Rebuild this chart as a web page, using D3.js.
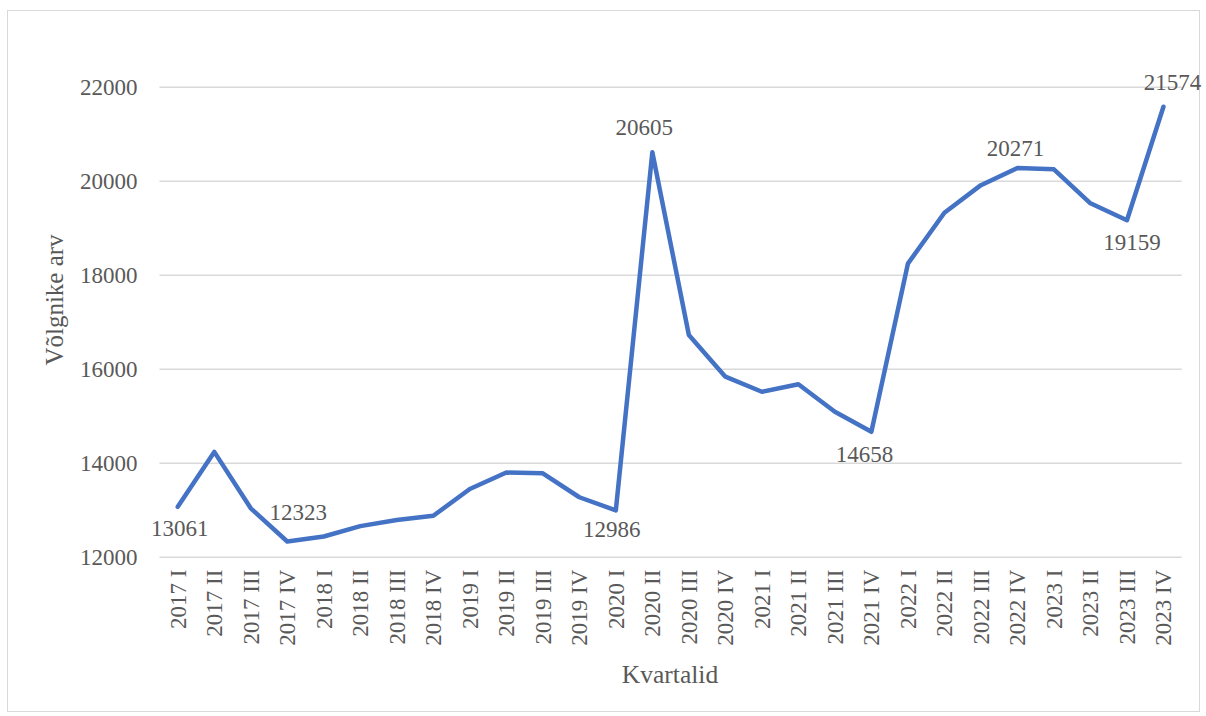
<!DOCTYPE html>
<html>
<head>
<meta charset="utf-8">
<script src="https://cdn.jsdelivr.net/npm/d3@7/dist/d3.min.js"></script>
<style>
  html, body { margin: 0; padding: 0; background: #fff; }
  svg { display: block; }
  text { font-family: "Liberation Serif", "Times New Roman", serif; fill: #595959; }
</style>
</head>
<body>
<svg id="chart" width="1206" height="716"></svg>
<script>
// Quarterly number of debtors
const quarters = [
  "2017 I", "2017 II", "2017 III", "2017 IV",
  "2018 I", "2018 II", "2018 III", "2018 IV",
  "2019 I", "2019 II", "2019 III", "2019 IV",
  "2020 I", "2020 II", "2020 III", "2020 IV",
  "2021 I", "2021 II", "2021 III", "2021 IV",
  "2022 I", "2022 II", "2022 III", "2022 IV",
  "2023 I", "2023 II", "2023 III", "2023 IV"
];
const debtors = [
  13061, 14230, 13030, 12323,
  12430, 12650, 12780, 12870,
  13440, 13790, 13775, 13265,
  12986, 20605, 16717, 15830,
  15510, 15668, 15085, 14658,
  18235, 19319, 19905, 20271,
  20243, 19519, 19159, 21574
];
const yTicks = [12000, 14000, 16000, 18000, 20000, 22000];
// Quarters that carry a value label
const labelledQuarters = ["2017 I", "2017 IV", "2020 I", "2020 II", "2021 IV", "2022 IV", "2023 III", "2023 IV"];

// Label offsets from their point (px): keeps each label clear of the line
const labelNudge = {
  "2017 I":   [2, 29],
  "2017 IV":  [11, -22],
  "2020 I":   [-4, 27],
  "2020 II":  [-8, -17],
  "2021 IV":  [-7, 30],
  "2022 IV":  [-2, -12],
  "2023 III": [5, 30],
  "2023 IV":  [9, -17]
};

const svg = d3.select("#chart");
const serif = "'Liberation Serif', 'Times New Roman', serif";

// Chart frame
svg.append("rect")
  .attr("x", 7.5).attr("y", 10.5)
  .attr("width", 1192).attr("height", 701)
  .attr("fill", "#fff")
  .attr("stroke", "#d9d9d9")
  .attr("stroke-width", 1);

const plot = { left: 159.5, right: 1181.7, top: 86.7, bottom: 556.7 };

const x = d3.scaleBand().domain(quarters).range([plot.left, plot.right]).padding(0);
const cx = q => x(q) + x.bandwidth() / 2;
const y = d3.scaleLinear().domain([12000, 22000]).range([plot.bottom, plot.top]);

// Horizontal gridlines with value ticks
const yAxis = d3.axisLeft(y)
  .tickValues(yTicks)
  .tickFormat(d3.format("d"))
  .tickSize(-(plot.right - plot.left))
  .tickPadding(22);
const gy = svg.append("g").attr("transform", `translate(${plot.left},0)`).call(yAxis);
gy.select(".domain").remove();
gy.selectAll(".tick line").attr("stroke", "#d9d9d9").attr("stroke-width", 1.5);
gy.selectAll(".tick text")
  .attr("fill", "#595959")
  .style("font-family", serif)
  .style("font-size", "23px");

// Category axis, labels rotated vertically
const xAxis = d3.axisBottom(x).tickSize(0).tickPadding(0);
const gx = svg.append("g").attr("transform", `translate(0,${plot.bottom})`).call(xAxis);
gx.select(".domain").remove();
gx.selectAll(".tick text")
  .attr("fill", "#595959")
  .style("font-family", serif)
  .style("font-size", "23px")
  .attr("text-anchor", "end")
  .attr("dy", null)
  .attr("y", 0)
  .attr("transform", "translate(8,13) rotate(-90)");

// Data line
const line = d3.line()
  .x((d, i) => cx(quarters[i]))
  .y(d => y(d));

svg.append("path")
  .datum(debtors)
  .attr("d", line)
  .attr("fill", "none")
  .attr("stroke", "#4472C4")
  .attr("stroke-width", 4.5)
  .attr("stroke-linejoin", "round")
  .attr("stroke-linecap", "round");

// Value labels
svg.append("g").selectAll("text")
  .data(labelledQuarters)
  .join("text")
  .attr("x", q => cx(q) + labelNudge[q][0])
  .attr("y", q => y(debtors[quarters.indexOf(q)]) + labelNudge[q][1])
  .attr("text-anchor", "middle")
  .style("font-size", "23px")
  .attr("fill", "#404040")
  .text(q => debtors[quarters.indexOf(q)]);

// Axis titles
svg.append("text")
  .attr("transform", "translate(63,300) rotate(-90)")
  .attr("text-anchor", "middle")
  .style("font-size", "25px")
  .text("Võlgnike arv");

svg.append("text")
  .attr("x", 670)
  .attr("y", 683)
  .attr("text-anchor", "middle")
  .style("font-size", "25.5px")
  .text("Kvartalid");
</script>
</body>
</html>
